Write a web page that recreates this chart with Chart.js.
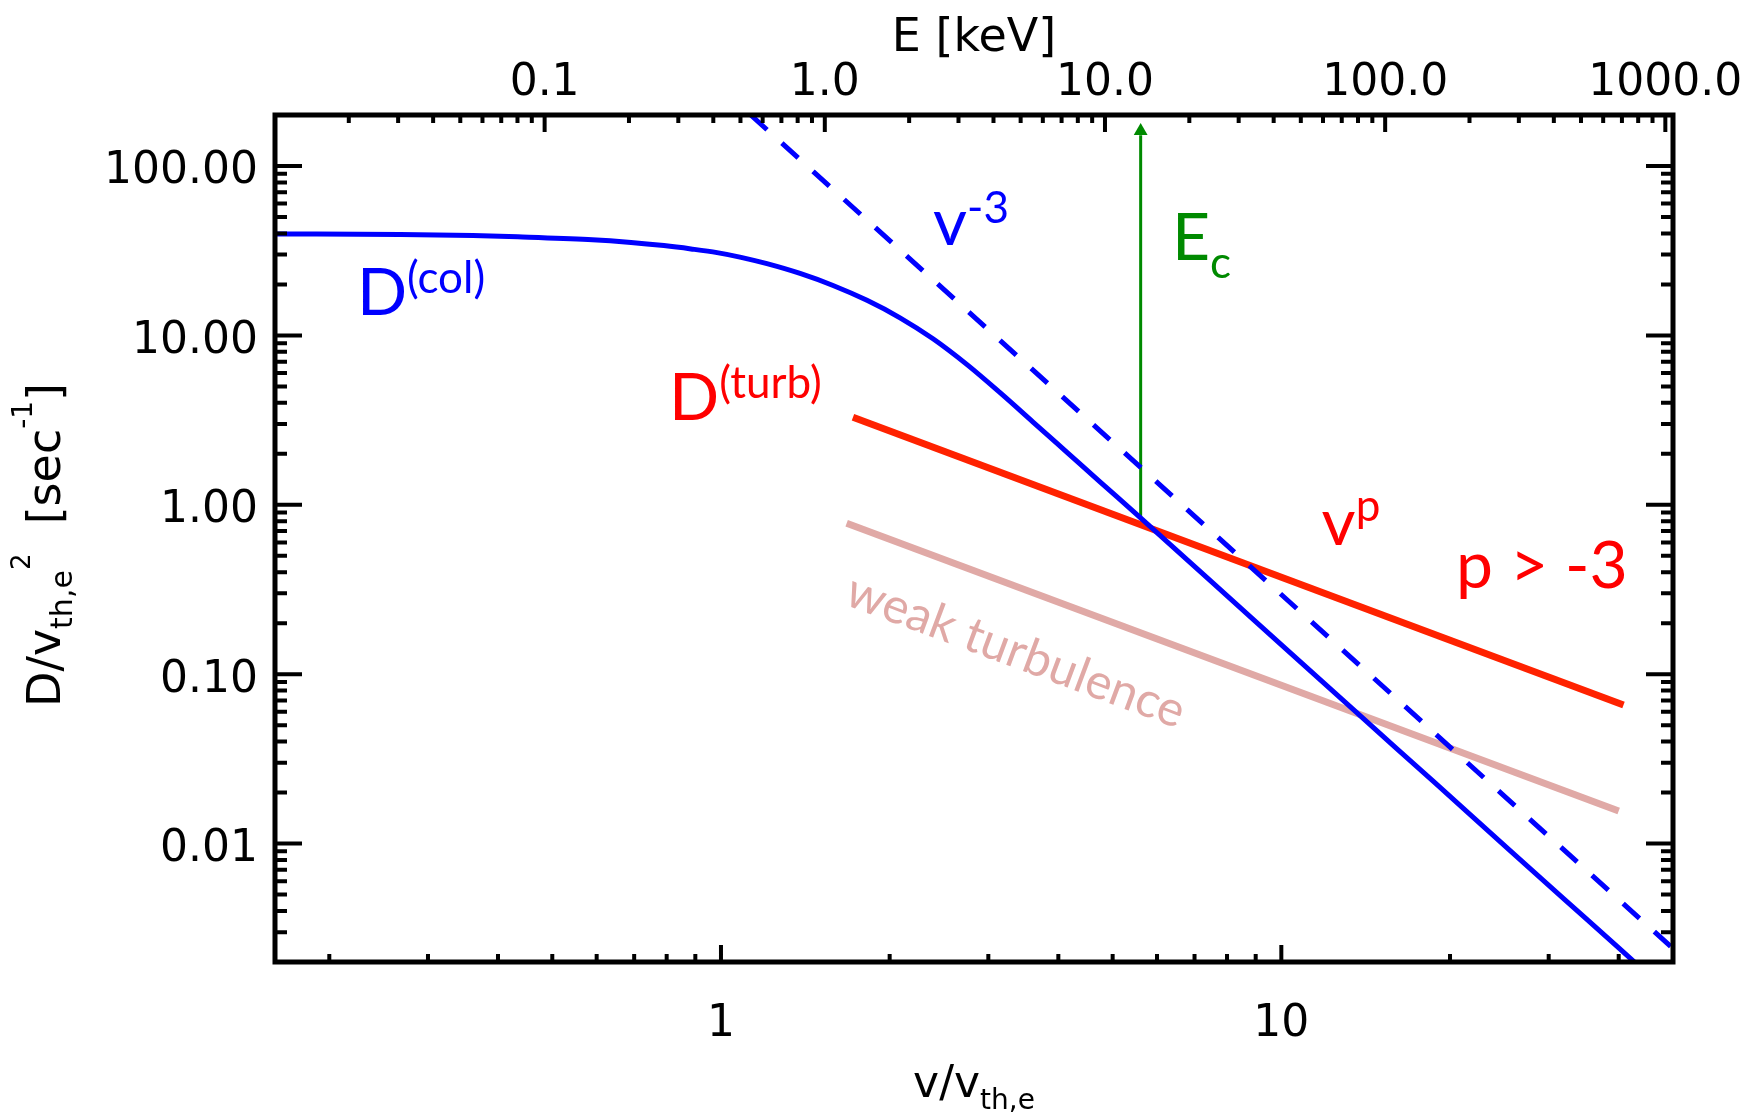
<!DOCTYPE html>
<html>
<head>
<meta charset="utf-8">
<script src="https://cdn.jsdelivr.net/npm/chart.js@4.4.1/dist/chart.umd.min.js"></script>
<style>
  html, body { margin: 0; padding: 0; background: #fff; }
  #wrap { width: 1758px; height: 1117px; }
</style>
</head>
<body>
<div id="wrap"><canvas id="diffChart"></canvas></div>
<script>
// axis ranges and labelled ticks
const vRange = [0.16, 50];
const vMajor = [1, 10];
const dRange = [0.002, 200];
const dMajor = [0.01, 0.1, 1, 10, 100];
const eMajor = [0.1, 1, 10, 100, 1000];
const keVPerV2 = 0.426; // E [keV] = keVPerV2 * (v/v_th,e)^2

// collisional diffusion D(col)
const vCol = [0.16, 0.267, 0.361, 0.434, 0.579, 0.691, 0.791, 0.884, 0.984, 1.086, 1.208, 1.384, 1.585, 1.822,
  2.087, 2.39, 2.749, 3.148, 3.605, 4.145, 4.747, 5.595, 7.52, 10.19, 13.87, 18.81, 25.6, 34.7, 43.1];
const dCol = [39.7, 39.4, 38.9, 38.2, 36.8, 35.4, 33.9, 32.4, 30.8, 28.9, 26.5, 23.2, 19.7, 16.1,
  12.7, 9.55, 6.72, 4.59, 3.08, 2.04, 1.367, 0.843, 0.35, 0.141, 0.0563, 0.0228, 0.0091, 0.00369, 0.00194];

// v^-3 asymptote
const vPow = [1.13, 50];
const dPow = [200, 0.0024];

// turbulent diffusion, strong and weak
const vTurb = [1.72, 40.8];
const dTurb = [3.29, 0.0658];
const vWeak = [1.676, 40.0];
const dWeak = [0.778, 0.01556];

// E_c arrow
const vEc = 5.61;
const dEc = [0.85, 152];
const dEcTip = 161;

function xy(xs, ys) { return xs.map((x, i) => ({x: x, y: ys[i]})); }

function logTicks(min, max, major) {
  const out = [];
  for (let e = Math.floor(Math.log10(min)); e <= Math.ceil(Math.log10(max)); e++) {
    for (let k = 1; k <= 9; k++) {
      let v = k * Math.pow(10, e);
      if (k === 1) v = major.find(m => Math.abs(m - v) < 1e-9 * v) || v;
      if (v >= min * 0.9999 && v <= max * 1.0001) out.push({value: v});
    }
  }
  return out;
}

const eRange = [keVPerV2 * vRange[0] * vRange[0], keVPerV2 * vRange[1] * vRange[1]];

const labelFont = {family: 'DejaVu Sans', size: 44};

// text notes on the plot, anchored in data coordinates
const notes = [
  {v: 0.224, d: 13.2, color: '#0000ff', parts: [['D', 66, 0], ['(col)', 44, -22]]},
  {v: 2.39, d: 34.2, color: '#0000ff', parts: [['v', 66, 0], ['-3', 44, -22]]},
  {v: 6.38, d: 27.9, color: '#008a00', parts: [['E', 66, 0], ['c', 44, 18]]},
  {v: 0.808, d: 3.17, color: '#ff0000', parts: [['D', 66, 0], ['(turb)', 44, -22]]},
  {v: 11.8, d: 0.579, color: '#ff0000', parts: [['v', 66, 0], ['p', 44, -24]]},
  {v: 20.5, d: 0.323, color: '#ff0000', parts: [['p > -3', 66, 0]]}
];

function drawRich(ctx, parts, x, y, family, align) {
  let w = 0;
  parts.forEach(p => { ctx.font = p[1] + 'px ' + family; w += ctx.measureText(p[0]).width; });
  let cx = align === 'center' ? x - w / 2 : x;
  parts.forEach(p => {
    ctx.font = p[1] + 'px ' + family;
    ctx.fillText(p[0], cx, y + p[2]);
    cx += ctx.measureText(p[0]).width;
  });
}

const framePlugin = {
  id: 'frame',
  afterDatasetsDraw(chart) {
    const ctx = chart.ctx, sx = chart.scales.x, sy = chart.scales.y;
    ctx.save();
    ctx.textBaseline = 'alphabetic';
    ctx.textAlign = 'left';
    notes.forEach(n => {
      ctx.fillStyle = n.color;
      drawRich(ctx, n.parts, sx.getPixelForValue(n.v), sy.getPixelForValue(n.d), 'Lato', 'left');
    });
    // label along the weak turbulence line
    const ang = Math.atan2(sy.getPixelForValue(dWeak[1]) - sy.getPixelForValue(dWeak[0]),
      sx.getPixelForValue(vWeak[1]) - sx.getPixelForValue(vWeak[0]));
    ctx.translate(sx.getPixelForValue(1.651), sy.getPixelForValue(0.26));
    ctx.rotate(ang);
    ctx.fillStyle = '#e0a9a6';
    ctx.font = '49px Lato';
    ctx.fillText('weak turbulence', 0, 0);
    ctx.restore();
  },
  afterDraw(chart) {
    const ctx = chart.ctx, a = chart.chartArea, s = chart.scales;
    ctx.save();
    ctx.strokeStyle = '#000';
    ctx.lineWidth = 4;
    ctx.beginPath();
    s.x.ticks.forEach(t => {
      const px = s.x.getPixelForValue(t.value);
      const len = vMajor.includes(t.value) ? 17 : 8;
      ctx.moveTo(px, a.bottom); ctx.lineTo(px, a.bottom - len);
    });
    s.x2.ticks.forEach(t => {
      const px = s.x2.getPixelForValue(t.value);
      const len = eMajor.includes(t.value) ? 17 : 8;
      ctx.moveTo(px, a.top); ctx.lineTo(px, a.top + len);
    });
    s.y.ticks.forEach(t => {
      const py = s.y.getPixelForValue(t.value);
      const len = dMajor.includes(t.value) ? 27 : 12;
      ctx.moveTo(a.left, py); ctx.lineTo(a.left + len, py);
      ctx.moveTo(a.right, py); ctx.lineTo(a.right - len, py);
    });
    ctx.stroke();
    ctx.lineWidth = 5;
    ctx.strokeRect(a.left, a.top, a.right - a.left, a.bottom - a.top);

    // axis titles with sub/superscripts
    ctx.fillStyle = '#000';
    ctx.textBaseline = 'alphabetic';
    drawRich(ctx, [['v/v', 44, 0], ['th,e', 28, 12]], (a.left + a.right) / 2, 1097, 'DejaVu Sans', 'center');
    ctx.translate(60, 545);
    ctx.rotate(-Math.PI / 2);
    drawRich(ctx, [['D/v', 46, 0], ['th,e', 30, 12], ['2', 26, -30], ['  [sec', 46, 0], ['-1', 28, -28], [']', 46, 0]],
      0, 0, 'DejaVu Sans', 'center');
    ctx.restore();
  }
};

const ctx1 = document.getElementById('diffChart').getContext('2d');
const diffChart = new Chart(ctx1, {
  type: 'line',
  data: {
    datasets: [{
      label: 'D(col)',
      data: xy(vCol, dCol),
      borderColor: '#0000ff',
      borderWidth: 5,
      cubicInterpolationMode: 'monotone',
      pointRadius: 0
    }, {
      label: 'v^-3',
      data: xy(vPow, dPow),
      borderColor: '#0000ff',
      borderWidth: 5,
      borderDash: [22, 20],
      pointRadius: 0
    }, {
      label: 'weak turbulence',
      data: xy(vWeak, dWeak),
      borderColor: '#e0a9a6',
      borderWidth: 7,
      pointRadius: 0
    }, {
      label: 'D(turb)',
      data: xy(vTurb, dTurb),
      borderColor: '#ff2200',
      borderWidth: 7,
      pointRadius: 0
    }, {
      label: 'Ec',
      data: xy([vEc, vEc], dEc),
      borderColor: '#008a00',
      borderWidth: 3,
      pointRadius: 0
    }, {
      label: 'Ec tip',
      data: [{x: vEc, y: dEcTip}],
      showLine: false,
      pointStyle: 'triangle',
      pointRadius: 8,
      pointBorderWidth: 0,
      pointBackgroundColor: '#008a00',
      borderColor: '#008a00'
    }]
  },
  options: {
    responsive: true,
    maintainAspectRatio: false,
    animation: false,
    layout: {padding: {left: 0, right: 85, top: 0, bottom: 0}},
    plugins: {legend: {display: false}, tooltip: {enabled: false}},
    scales: {
      x: {
        type: 'logarithmic',
        position: 'bottom',
        min: vRange[0],
        max: vRange[1],
        afterBuildTicks: sc => { sc.ticks = logTicks(vRange[0], vRange[1], vMajor); },
        afterFit: sc => { sc.height = 155; },
        grid: {display: false, drawTicks: false},
        border: {display: false},
        ticks: {
          autoSkip: false, maxRotation: 0, minRotation: 0, padding: 36,
          color: '#000', font: labelFont,
          callback: v => vMajor.includes(v) ? String(v) : ''
        }
      },
      x2: {
        type: 'logarithmic',
        position: 'top',
        min: eRange[0],
        max: eRange[1],
        afterBuildTicks: sc => { sc.ticks = logTicks(eRange[0], eRange[1], eMajor); },
        afterFit: sc => { sc.height = 115; },
        grid: {display: false, drawTicks: false},
        border: {display: false},
        title: {display: true, text: 'E [keV]', color: '#000', font: {family: 'DejaVu Sans', size: 46}, padding: {top: 11, bottom: 0}},
        ticks: {
          autoSkip: false, maxRotation: 0, minRotation: 0, padding: 5,
          color: '#000', font: labelFont,
          callback: v => eMajor.includes(v) ? v.toFixed(1) : ''
        }
      },
      y: {
        type: 'logarithmic',
        position: 'left',
        min: dRange[0],
        max: dRange[1],
        afterBuildTicks: sc => { sc.ticks = logTicks(dRange[0], dRange[1], dMajor); },
        afterFit: sc => { sc.width = 275; },
        grid: {display: false, drawTicks: false},
        border: {display: false},
        ticks: {
          autoSkip: false, padding: 17, labelOffset: 6,
          color: '#000', font: labelFont,
          callback: v => dMajor.includes(v) ? v.toFixed(2) : ''
        }
      }
    }
  },
  plugins: [framePlugin]
});
</script>
</body>
</html>
